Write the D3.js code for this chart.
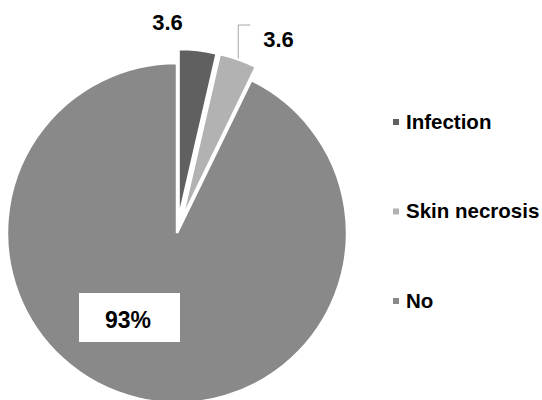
<!DOCTYPE html>
<html>
<head>
<meta charset="utf-8">
<script src="https://cdn.jsdelivr.net/npm/d3@7"></script>
<style>
  body { margin: 0; background: #fff; }
  svg text { font-family: 'Liberation Sans', Arial, sans-serif; font-weight: bold; fill: #000; }
</style>
</head>
<body>
<svg id="chart" width="542" height="400"></svg>
<script>
const categories = ['Infection', 'Skin necrosis', 'No'];
const values = [3.6, 3.6, 92.8];
const labels = ['3.6', '3.6', '93%'];
const colors = ['#606060', '#b2b2b2', '#898989'];
const exploded = [true, true, false];

const cx = 177;
const cy = 233;
const radius = 170;
const explode = 14;

const svg = d3.select('#chart');

const pie = d3.pie().sort(null).value((d) => d.value);
const arc = d3.arc().innerRadius(0).outerRadius(radius);

const slices = pie(categories.map((c, i) => ({ name: c, value: values[i] })));

const offset = (d) => {
  if (!exploded[d.index]) return [0, 0];
  const mid = (d.startAngle + d.endAngle) / 2;
  return [explode * Math.sin(mid), -explode * Math.cos(mid)];
};

const pieG = svg.append('g').attr('transform', `translate(${cx},${cy})`);

pieG.selectAll('path')
  .data(slices)
  .enter()
  .append('path')
  .attr('d', arc)
  .attr('transform', (d) => `translate(${offset(d)[0]},${offset(d)[1]})`)
  .style('fill', (d) => colors[d.index])
  .style('stroke', '#fff')
  .style('stroke-width', 2.5)
  .style('stroke-linejoin', 'miter');

// point on the outer rim of a slice at its mid angle
const rimPoint = (d, r) => {
  const mid = (d.startAngle + d.endAngle) / 2;
  const [ox, oy] = offset(d);
  return [ox + r * Math.sin(mid), oy - r * Math.cos(mid)];
};

// Infection label, outside the rim, left of the slice
const s0 = slices[0];
pieG.append('text')
  .attr('x', (radius + 40) * Math.sin(s0.startAngle - 0.045))
  .attr('y', -(radius + 40) * Math.cos(s0.startAngle - 0.045) + 7)
  .style('font-size', '22px')
  .style('text-anchor', 'middle')
  .text(labels[0]);

// Skin necrosis label with leader line
const s1 = slices[1];
const p1 = rimPoint(s1, radius);
const elbowY = -radius - 38;
pieG.append('polyline')
  .attr('points', [[p1[0], p1[1] - 1], [p1[0], elbowY], [p1[0] + 12, elbowY]].map((p) => p.join(',')).join(' '))
  .style('fill', 'none')
  .style('stroke', '#a6a6a6')
  .style('stroke-width', 1);

pieG.append('text')
  .attr('x', p1[0] + 25)
  .attr('y', elbowY + 21.5)
  .style('font-size', '22px')
  .text(labels[1]);

// No label inside a white box
const boxW = 101;
const boxH = 49;
const label2 = pieG.append('g').attr('transform', 'translate(-47.5,84.5)');
label2.append('rect')
  .attr('x', -boxW / 2)
  .attr('y', -boxH / 2)
  .attr('width', boxW)
  .attr('height', boxH)
  .style('fill', '#fff');
label2.append('text')
  .attr('x', -1.5)
  .attr('y', 10.5)
  .style('font-size', '23px')
  .style('text-anchor', 'middle')
  .text(labels[2]);

// legend
const legendY = d3.scalePoint().domain(categories).range([122, 301]);
const legend = svg.append('g').attr('transform', 'translate(393,0)');
const items = legend.selectAll('g')
  .data(categories)
  .enter()
  .append('g')
  .attr('transform', (c) => `translate(0,${legendY(c)})`);

items.append('rect')
  .attr('x', 0)
  .attr('y', -3)
  .attr('width', 6)
  .attr('height', 6)
  .style('fill', (c, i) => colors[i]);

items.append('text')
  .attr('x', 13)
  .attr('y', 6.5)
  .style('font-size', '20.5px')
  .text((c) => c);
</script>
</body>
</html>
